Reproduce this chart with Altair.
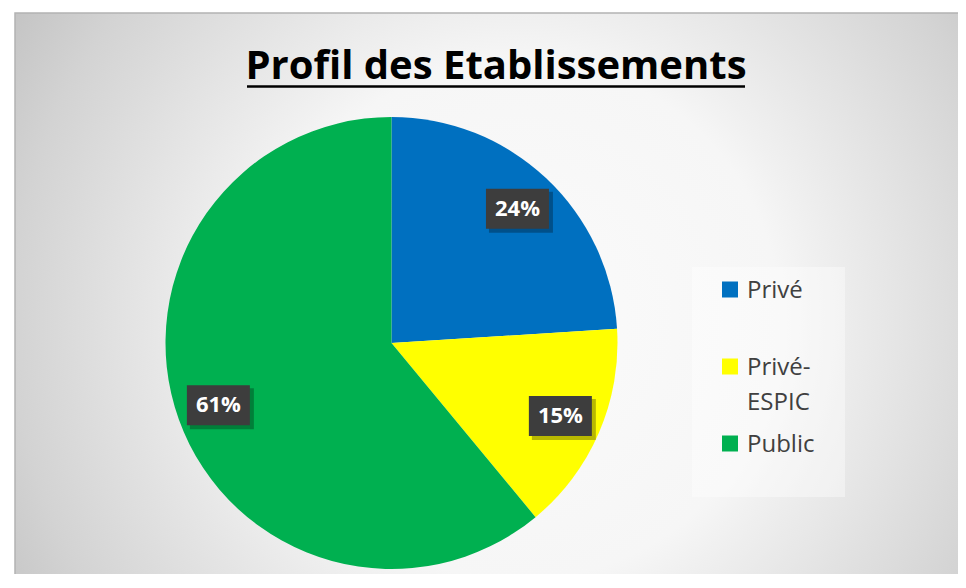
import altair as alt
import pandas as pd

# ---- data ----
categories = ["Privé", "Privé-ESPIC", "Public"]
values = [24, 15, 61]
colors = ["#0070C0", "#FFFF00", "#00B050"]
title_text = "Profil des Etablissements"

df = pd.DataFrame({"category": categories, "value": values})

W, H = 950, 566
CX, CY, R, RL = 383.5, 335, 226, 184
FONT = "Open Sans"

xs = alt.Scale(domain=[0, W], range=[0, W], nice=False, zero=False)
ys = alt.Scale(domain=[0, H], range=[0, H], nice=False, zero=False)
color_scale = alt.Scale(domain=categories, range=colors)

one = alt.InlineData(values=[{}])

# background panel with radial gradient
bg = alt.Chart(one).mark_rect(
    fill={
        "gradient": "radial",
        "x1": 0.459, "y1": 0.279, "r1": 0,
        "x2": 0.459, "y2": 0.279, "r2": 0.591,
        "stops": [
            {"offset": 0.0, "color": "#fbfbfb"},
            {"offset": 0.40, "color": "#f6f6f6"},
            {"offset": 0.46, "color": "#f0f0f0"},
            {"offset": 0.78, "color": "#d3d3d3"},
            {"offset": 0.92, "color": "#c3c3c3"},
            {"offset": 1.0, "color": "#bdbdbd"},
        ],
    },
    stroke="#b3b3b3",
    strokeWidth=1.5,
).encode(x=alt.value(7), x2=alt.value(1107), y=alt.value(5), y2=alt.value(1105))

# title + underline
title = alt.Chart(one).mark_text(
    text=title_text, font=FONT, fontSize=40, fontWeight="bold", color="#000000",
    align="center", baseline="alphabetic",
).encode(x=alt.value(488), y=alt.value(71))
underline = alt.Chart(one).mark_rule(color="#000000", strokeWidth=2.5).encode(
    x=alt.value(239), x2=alt.value(737), y=alt.value(78.5)
)

base = alt.Chart(df)

pie = base.mark_arc(outerRadius=R).encode(
    x=alt.value(CX),
    y=alt.value(CY),
    theta=alt.Theta("value:Q", stack=True),
    color=alt.Color("category:N", scale=color_scale, legend=None),
)

lab = base.transform_joinaggregate(total="sum(value)").transform_window(
    cum="sum(value)", sort=[alt.SortField("category")], frame=[None, 0]
).transform_calculate(
    mid="2*PI*(datum.cum - datum.value/2)/datum.total",
    px=f"{CX} + {RL}*sin(datum.mid)",
    py=f"{CY} - {RL}*cos(datum.mid)",
    bx1="datum.px - 31.5", bx2="datum.px + 31.5",
    by1="datum.py - 20", by2="datum.py + 20",
    sx1="datum.bx1 + 3", sx2="datum.bx2 + 4",
    sy1="datum.by1 + 3", sy2="datum.by2 + 4",
    pct="round(datum.value/datum.total*100) + '%'",
)

shadow = lab.mark_rect(color="#000000", opacity=0.28).encode(
    x=alt.X("sx1:Q", scale=xs, axis=None), x2="sx2:Q",
    y=alt.Y("sy1:Q", scale=ys, axis=None), y2="sy2:Q",
)
box = lab.mark_rect(color="#3d3d3d").encode(
    x=alt.X("bx1:Q", scale=xs, axis=None), x2="bx2:Q",
    y=alt.Y("by1:Q", scale=ys, axis=None), y2="by2:Q",
)
txt = lab.mark_text(
    font=FONT, fontSize=22, fontWeight="bold", color="#ffffff",
    align="center", baseline="middle",
).encode(
    x=alt.X("px:Q", scale=xs, axis=None),
    y=alt.Y("py:Q", scale=ys, axis=None),
    text="pct:N",
)

# legend
legbox = alt.Chart(one).mark_rect(fill="#ffffff", opacity=0.4).encode(
    x=alt.value(684), x2=alt.value(837), y=alt.value(259), y2=alt.value(489)
)
leg = base.transform_window(
    rn="row_number()", sort=[alt.SortField("category")]
).transform_calculate(
    ly="281.5 + 77*(datum.rn - 1)",
    lt="datum.ly + 8",
    lab="replace(datum.category, '-', '-\\n')",
)
legsym = leg.mark_square(size=256, opacity=1, filled=True).encode(
    x=alt.value(722),
    y=alt.Y("ly:Q", scale=ys, axis=None),
    color=alt.Color("category:N", scale=color_scale, legend=None),
)
legtxt = leg.mark_text(
    font=FONT, fontSize=24, color="#404040", align="left",
    baseline="alphabetic", lineBreak="\n", lineHeight=35,
).encode(
    x=alt.value(739),
    y=alt.Y("lt:Q", scale=ys, axis=None),
    text="lab:N",
)

chart = alt.layer(
    bg, title, underline, pie, shadow, box, txt, legbox, legsym, legtxt
).properties(
    width=W, height=H, autosize=alt.AutoSizeParams(type="none"), padding=0,
    background="#ffffff",
).configure_view(stroke=None)

chart.save("out.html", embed_options={"renderer": "svg", "actions": False})
